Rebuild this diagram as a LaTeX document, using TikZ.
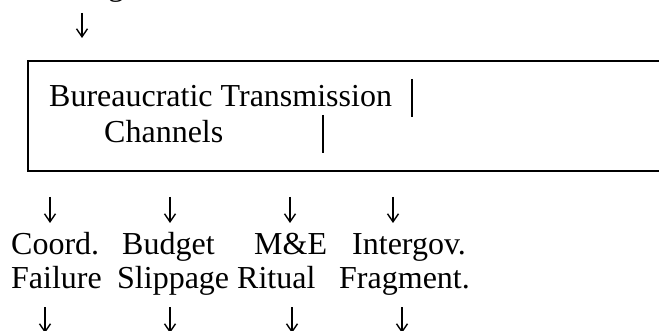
\documentclass[tikz,border=0pt]{standalone}
\usepackage{fontspec}
\setmainfont{Liberation Serif}
\usetikzlibrary{arrows.meta}

\tikzset{
  lbl/.style={anchor=base west, inner sep=0pt, font=\fontsize{32}{35}\selectfont},
  arr/.style={-{Straight Barb[length=8pt, width=11pt]}, line width=1.4pt},
  boxline/.style={line width=2pt},
}

\begin{document}
\begin{tikzpicture}[x=1pt, y=-1pt]
  \useasboundingbox (0,0) rectangle (659,331);
  % cut-off text above the box
  \node[lbl] (head) at (108,-4) {g};
  \coordinate (hd1) at (82,13);
  \coordinate (hd2) at (82,38);
  \draw[arr] (hd1) -- (hd2);

  % channel box, runs off to the right
  \draw[boxline] (680,61) -- (28,61) -- (28,171) -- (680,171);
  \node[lbl] (chan1) at (49,107) {Bureaucratic Transmission};
  \node[lbl] (chan2) at (104,143) {Channels};
  \draw[boxline] (412,79) -- (412,117);
  \draw[boxline] (323,115) -- (323,153);

  % the four channels
  \node[lbl] (coord)  at (11,255)  {Coord.};
  \node[lbl] (budget) at (122,255) {Budget};
  \node[lbl] (me)     at (254,255) {M\&E};
  \node[lbl] (igov)   at (352,255) {Intergov.};
  \node[lbl] (fail)   at (11,289)  {Failure};
  \node[lbl] (slip)   at (117,289) {Slippage};
  \node[lbl] (ritual) at (237,289) {Ritual};
  \node[lbl] (frag)   at (339,289) {Fragment.};

  \foreach \x [count=\i] in {50,170,290,393} {
    \coordinate (in\i) at (\x,197);
    \coordinate (out\i) at (\x,223);
    \draw[arr] (in\i) -- (out\i);
  }
  \foreach \x [count=\i] in {45,170,292,402} {
    \coordinate (dn\i) at (\x,307);
    \coordinate (end\i) at (\x,333);
    \draw[arr] (dn\i) -- (end\i);
  }
\end{tikzpicture}
\end{document}
